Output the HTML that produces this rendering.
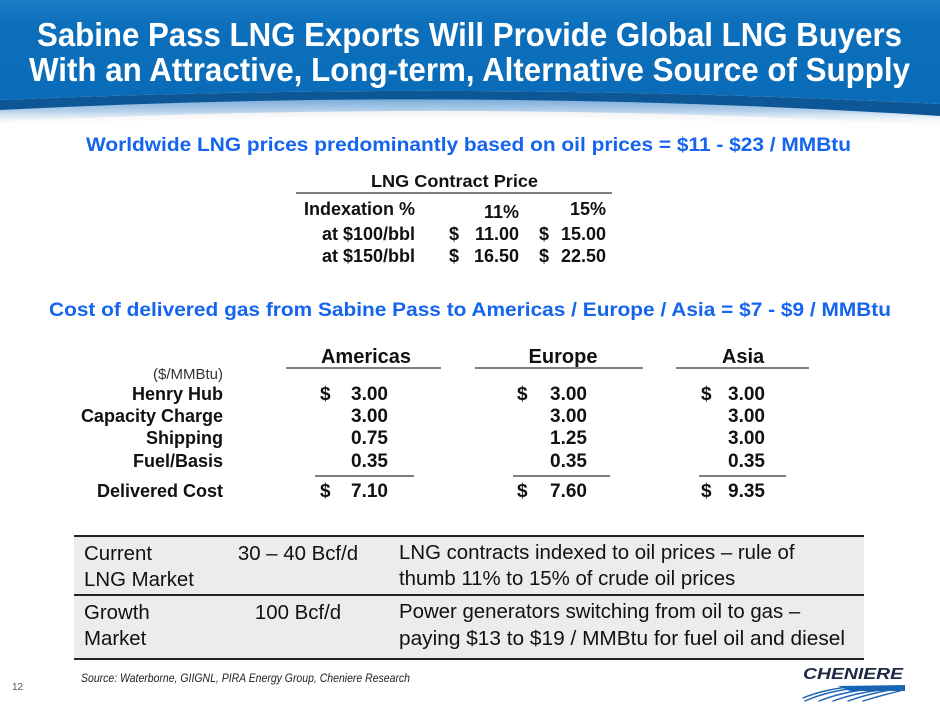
<!DOCTYPE html>
<html>
<head>
<meta charset="utf-8">
<style>
  html, body { margin: 0; padding: 0; background: #ffffff; }
  body { width: 940px; height: 705px; overflow: hidden; }
  svg { display: block; }
  text { font-family: "Liberation Sans", Arial, sans-serif; }
</style>
</head>
<body>
<svg width="940" height="705" viewBox="0 0 940 705" xmlns="http://www.w3.org/2000/svg">
  <defs>
    <linearGradient id="hdr" x1="0" y1="0" x2="0" y2="1">
      <stop offset="0" stop-color="#1c7cc6"/>
      <stop offset="0.25" stop-color="#0c6fbb"/>
      <stop offset="1" stop-color="#0a6cb8"/>
    </linearGradient>
    <linearGradient id="shade" x1="0" y1="0" x2="0" y2="1">
      <stop offset="0" stop-color="#6fa6d8"/>
      <stop offset="0.5" stop-color="#b9d3ec"/>
      <stop offset="1" stop-color="#ffffff" stop-opacity="0"/>
    </linearGradient>
    <linearGradient id="gray" x1="0" y1="0" x2="0" y2="1">
      <stop offset="0" stop-color="#d8d8d8"/>
      <stop offset="1" stop-color="#ffffff" stop-opacity="0"/>
    </linearGradient>
  </defs>

  <!-- header -->
  <path d="M0,112 Q470,92 940,122 L940,132 Q470,104 0,126 Z" fill="url(#gray)" opacity="0.6"/>
  <path d="M0,108 Q470,84 940,114 L940,126 Q470,98 0,122 Z" fill="url(#shade)"/>
  <path d="M0,100 Q470,80 940,104 L940,116 Q470,86 0,110 Z" fill="#0d5796"/>
  <path d="M0,0 H940 V104 Q470,80 0,100 Z" fill="url(#hdr)"/>

  <text x="37" y="46" font-size="33" font-weight="bold" fill="#ffffff" textLength="865" lengthAdjust="spacingAndGlyphs">Sabine Pass LNG Exports Will Provide Global LNG Buyers</text>
  <text x="29" y="81" font-size="33" font-weight="bold" fill="#ffffff" textLength="881" lengthAdjust="spacingAndGlyphs">With an Attractive, Long-term, Alternative Source of Supply</text>

  <!-- subtitle 1 -->
  <text x="86" y="151" font-size="19" font-weight="bold" fill="#1464f0" textLength="765" lengthAdjust="spacingAndGlyphs">Worldwide LNG prices predominantly based on oil prices = $11 - $23 / MMBtu</text>

  <!-- LNG contract price table -->
  <text x="371" y="187" font-size="17.5" font-weight="bold" fill="#111" textLength="167" lengthAdjust="spacingAndGlyphs">LNG Contract Price</text>
  <line x1="296" y1="193" x2="612" y2="193" stroke="#555" stroke-width="1.5"/>
  <g font-size="18" font-weight="bold" fill="#111">
    <text x="415" y="215" text-anchor="end">Indexation %</text>
    <text x="519" y="218" text-anchor="end">11%</text>
    <text x="606" y="215" text-anchor="end">15%</text>

    <text x="415" y="240" text-anchor="end">at $100/bbl</text>
    <text x="449" y="240">$</text>
    <text x="519" y="240" text-anchor="end">11.00</text>
    <text x="539" y="240">$</text>
    <text x="606" y="240" text-anchor="end">15.00</text>

    <text x="415" y="262" text-anchor="end">at $150/bbl</text>
    <text x="449" y="262">$</text>
    <text x="519" y="262" text-anchor="end">16.50</text>
    <text x="539" y="262">$</text>
    <text x="606" y="262" text-anchor="end">22.50</text>
  </g>

  <!-- subtitle 2 -->
  <text x="49" y="316" font-size="19" font-weight="bold" fill="#1464f0" textLength="842" lengthAdjust="spacingAndGlyphs">Cost of delivered gas from Sabine Pass to Americas / Europe / Asia = $7 - $9 / MMBtu</text>

  <!-- delivered cost table -->
  <g font-size="20" font-weight="bold" fill="#111" text-anchor="middle">
    <text x="366" y="363">Americas</text>
    <text x="563" y="363">Europe</text>
    <text x="743" y="363">Asia</text>
  </g>
  <g stroke="#333" stroke-width="1.3">
    <line x1="286" y1="368" x2="441" y2="368"/>
    <line x1="475" y1="368" x2="643" y2="368"/>
    <line x1="676" y1="368" x2="809" y2="368"/>
    <line x1="315" y1="476" x2="414" y2="476"/>
    <line x1="513" y1="476" x2="610" y2="476"/>
    <line x1="699" y1="476" x2="786" y2="476"/>
  </g>
  <text x="223" y="379" font-size="15" fill="#333" text-anchor="end">($/MMBtu)</text>
  <g font-size="18" font-weight="bold" fill="#111" text-anchor="end">
    <text x="223" y="400">Henry Hub</text>
    <text x="223" y="422">Capacity Charge</text>
    <text x="223" y="444">Shipping</text>
    <text x="223" y="467">Fuel/Basis</text>
    <text x="223" y="497">Delivered Cost</text>
  </g>
  <g font-size="19" font-weight="bold" fill="#111">
    <text x="320" y="400">$</text>
    <text x="517" y="400">$</text>
    <text x="701" y="400">$</text>
    <text x="320" y="497">$</text>
    <text x="517" y="497">$</text>
    <text x="701" y="497">$</text>
  </g>
  <g font-size="19" font-weight="bold" fill="#111" text-anchor="end">
    <text x="388" y="400">3.00</text>
    <text x="388" y="422">3.00</text>
    <text x="388" y="444">0.75</text>
    <text x="388" y="467">0.35</text>
    <text x="388" y="497">7.10</text>

    <text x="587" y="400">3.00</text>
    <text x="587" y="422">3.00</text>
    <text x="587" y="444">1.25</text>
    <text x="587" y="467">0.35</text>
    <text x="587" y="497">7.60</text>

    <text x="765" y="400">3.00</text>
    <text x="765" y="422">3.00</text>
    <text x="765" y="444">3.00</text>
    <text x="765" y="467">0.35</text>
    <text x="765" y="497">9.35</text>
  </g>

  <!-- bottom table -->
  <rect x="74" y="536" width="790" height="123" fill="#ececec"/>
  <g stroke="#222" stroke-width="2">
    <line x1="74" y1="536" x2="864" y2="536"/>
    <line x1="74" y1="595" x2="864" y2="595"/>
    <line x1="74" y1="659" x2="864" y2="659"/>
  </g>
  <g font-size="20.4" fill="#111">
    <text x="84" y="560">Current</text>
    <text x="84" y="586">LNG Market</text>
    <text x="84" y="619">Growth</text>
    <text x="84" y="645">Market</text>
    <text x="298" y="560" text-anchor="middle">30 – 40 Bcf/d</text>
    <text x="298" y="619" text-anchor="middle">100 Bcf/d</text>
    <text x="399" y="559">LNG contracts indexed to oil prices – rule of</text>
    <text x="399" y="585">thumb 11% to 15% of crude oil prices</text>
    <text x="399" y="618">Power generators switching from oil to gas –</text>
    <text x="399" y="645" textLength="446" lengthAdjust="spacingAndGlyphs">paying $13 to $19 / MMBtu for fuel oil and diesel</text>
  </g>

  <!-- source -->
  <text x="81" y="682" font-size="12" font-style="italic" fill="#222" textLength="329" lengthAdjust="spacingAndGlyphs">Source: Waterborne, GIIGNL, PIRA Energy Group, Cheniere Research</text>

  <!-- page number -->
  <text x="12" y="690" font-size="10" fill="#555">12</text>

  <!-- logo -->
  <text x="803" y="679" font-size="15.5" font-weight="bold" font-style="italic" fill="#1c2844" textLength="100" lengthAdjust="spacingAndGlyphs">CHENIERE</text>
  <path d="M838,686 L905,685 L905,691 L850,691 Z" fill="#1a64b4"/>
  <g fill="none" stroke="#1a64b4" stroke-width="1.4" stroke-linecap="round">
    <path d="M860,688 Q830,690 805,701"/>
    <path d="M870,689 Q842,692 819,701"/>
    <path d="M880,690 Q855,693 833,701"/>
    <path d="M890,690 Q868,694 848,701"/>
    <path d="M900,691 Q882,695 863,701"/>
    <path d="M848,687 Q822,690 803,698"/>
  </g>
</svg>
</body>
</html>
